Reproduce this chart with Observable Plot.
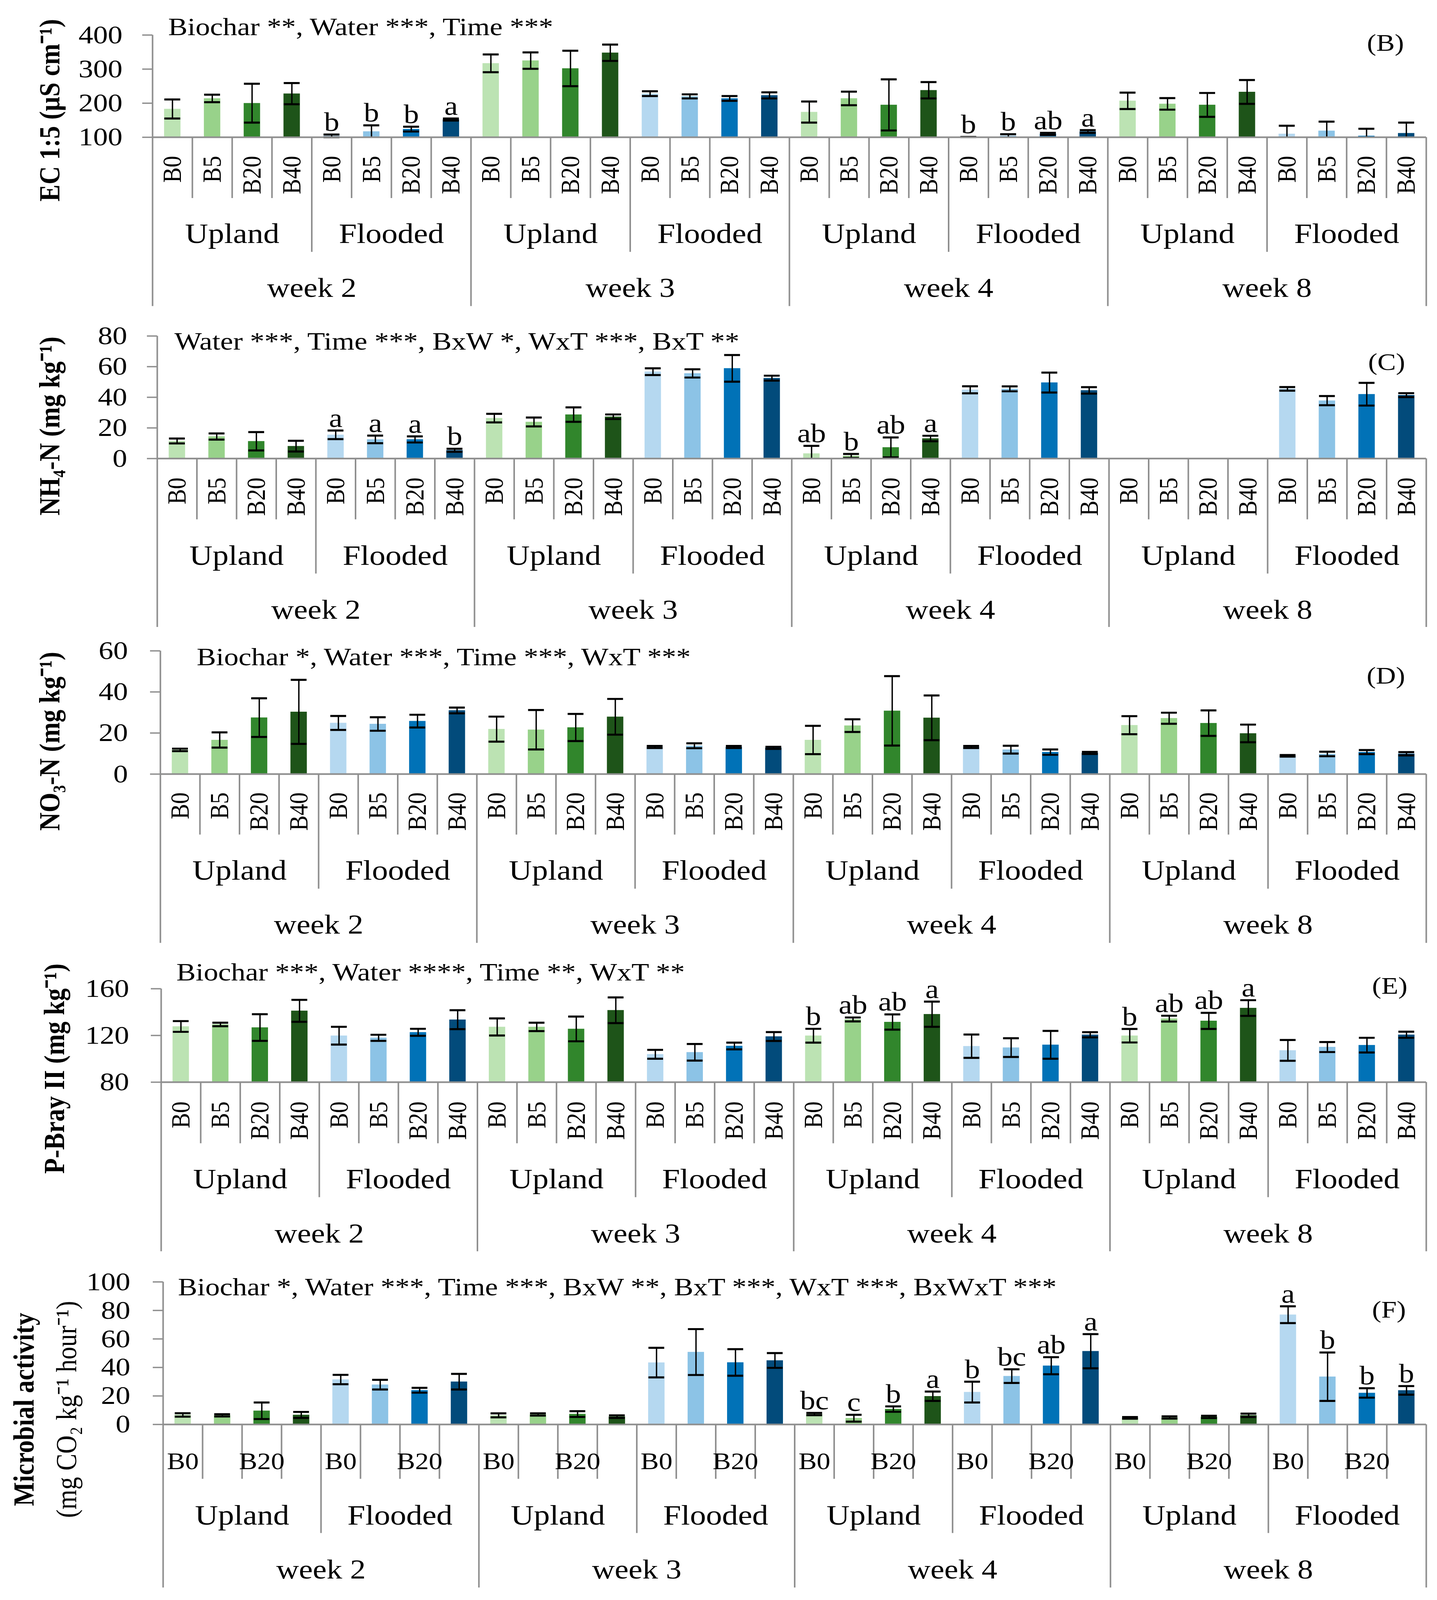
<!DOCTYPE html>
<html>
<head>
<meta charset="utf-8">
<script src="https://cdn.jsdelivr.net/npm/d3@7"></script>
<script src="https://cdn.jsdelivr.net/npm/@observablehq/plot@0.6"></script>
<style>
html, body { margin: 0; padding: 0; background: #fff; overflow: hidden; }
#frame { width: 3678px; height: 4096px; overflow: hidden; }
#chart { width: 3678px; transform-origin: 0 0; }
#chart svg { display: block; }
</style>
</head>
<body>
<div id="frame"><div id="chart"></div></div>
<script>
// ---------- categories ----------
const weeks = ["week 2", "week 3", "week 4", "week 8"];
const waterRegimes = ["Upland", "Flooded"];
const biocharRates = ["B0", "B5", "B20", "B40"];
const barKeys = waterRegimes.flatMap(w => biocharRates.map(r => w + " " + r));
const barColors = ["#bce3b3", "#98d28a", "#31862c", "#1e5419", "#b5d8f0", "#8cc3e6", "#0172b7", "#024b7b"];

// ---------- (B) EC 1:5 ----------
const ecMean = [183, 214, 200, 228, 104, 117, 124, 152, 317, 325, 302, 348, 228, 220, 214, 223,
                174, 214, 195, 238, 100, 104, 110, 117, 207, 198, 195, 233, 110, 119, 104, 112];
const ecErr = [28, 11, 57, 31, 4, 18, 7, 3, 26, 24, 52, 24, 7, 6, 7, 9,
               31, 20, 75, 24, 1, 5, 3, 4, 24, 17, 35, 35, 24, 27, 21, 31];
const ecLetters = ["", "", "", "", "b", "b", "b", "a", "", "", "", "", "", "", "", "",
                   "", "", "", "", "b", "b", "ab", "a", "", "", "", "", "", "", "", ""];
const ecTicks = [100, 200, 300, 400];

// ---------- (C) NH4-N ----------
const nh4Mean = [11.5, 14.4, 11.3, 8.1, 15.5, 12.5, 12.5, 5.4, 26.4, 23.9, 28.7, 27.3, 56.7, 55.6, 58.9, 52.5,
                 3.3, 1.7, 7.3, 13.1, 44.9, 45.5, 49.6, 44.5, null, null, null, null, 45.5, 37.8, 42.0, 41.4];
const nh4Err = [1.6, 2, 6, 3.5, 2.8, 2.5, 2, 1, 2.8, 2.9, 4.7, 1.5, 2.2, 2.7, 8.7, 1.6,
                5, 1.3, 6.5, 1.8, 2.3, 1.6, 6.5, 2.1, null, null, null, null, 1.2, 3, 7.4, 1.3];
const nh4Letters = ["", "", "", "", "a", "a", "a", "b", "", "", "", "", "", "", "", "",
                    "ab", "b", "ab", "a", "", "", "", "", "", "", "", "", "", "", "", ""];
const nh4Ticks = [0, 20, 40, 60, 80];

// ---------- (D) NO3-N ----------
const no3Mean = [11.8, 16.6, 27.5, 30.3, 24.9, 24.4, 25.8, 31.0, 21.9, 21.6, 22.7, 27.9, 13.2, 13.8, 13.2, 12.8,
                 16.6, 23.6, 30.8, 27.4, 13.2, 11.9, 10.7, 10.3, 23.8, 27.2, 24.8, 19.8, 8.9, 9.8, 10.7, 9.9];
const no3Err = [0.6, 3.7, 9.4, 15.6, 3.4, 3.3, 3.1, 1.4, 6.1, 9.6, 6.6, 8.7, 0.5, 1.2, 0.5, 0.5,
                6.9, 3.1, 16.9, 10.9, 0.5, 1.9, 1.3, 0.5, 4.4, 2.7, 6.2, 4.3, 0.4, 1.1, 1.0, 0.8];
const no3Letters = new Array(32).fill("");
const no3Ticks = [0, 20, 40, 60];

// ---------- (E) P-Bray II ----------
const pMean = [127.7, 129.4, 126.8, 141.1, 119.8, 118.0, 122.7, 133.5, 127.3, 127.3, 125.6, 141.6, 103.9, 105.6, 111.0, 119.1,
               119.8, 133.7, 131.5, 138.2, 110.8, 109.6, 112.0, 120.6, 119.8, 134.4, 132.5, 143.5, 107.2, 110.1, 111.7, 120.6];
const pErr = [4.6, 1.5, 11.4, 9.4, 7.6, 2.6, 3.0, 8.1, 7.3, 3.6, 10.6, 11, 3.8, 7.1, 2.9, 3.8,
              5.9, 1.7, 6.5, 10.8, 10, 8, 11.9, 2.2, 5.8, 2.5, 6.9, 6.7, 8.9, 4.3, 6.3, 2.6];
const pLetters = ["", "", "", "", "", "", "", "", "", "", "", "", "", "", "", "",
                  "b", "ab", "ab", "a", "", "", "", "", "b", "ab", "ab", "a", "", "", "", ""];
const pTicks = [80, 120, 160];

// ---------- (F) Microbial activity ----------
const micMean = [6.7, 6.4, 9.6, 6.7, 31.5, 27.9, 24.0, 30.0, 6.4, 7.0, 7.3, 5.5, 43.4, 50.8, 43.5, 44.9,
                 7.3, 4.4, 10.8, 19.8, 22.7, 33.9, 41.2, 51.4, 4.6, 4.9, 5.3, 6.4, 77.0, 33.5, 22.1, 23.9];
const micErr = [1.2, 0.8, 5.8, 2.1, 3.3, 3.4, 1.7, 5.5, 1.4, 0.8, 2, 0.9, 10.4, 16.1, 9.3, 5.2,
                0.8, 2.4, 1.9, 3.3, 7.3, 4.8, 6, 12, 0.6, 0.8, 0.8, 1.2, 5.9, 17, 3.3, 3];
const micLetters = ["", "", "", "", "", "", "", "", "", "", "", "", "", "", "", "",
                    "bc", "c", "b", "a", "b", "bc", "ab", "a", "", "", "", "", "a", "b", "b", "b"];
const micTicks = [0, 20, 40, 60, 80, 100];

// ---------- texts ----------
const panelTags = ["(B)", "(C)", "(D)", "(E)", "(F)"];
const annotations = [
  "Biochar **, Water ***, Time ***",
  "Water ***, Time ***, BxW *, WxT ***, BxT **",
  "Biochar *, Water ***, Time ***, WxT ***",
  "Biochar ***, Water ****, Time **, WxT **",
  "Biochar *, Water ***, Time ***, BxW **, BxT ***, WxT ***, BxWxT ***"
];
const yLabels = [
  ["EC 1:5 (µS cm⁻¹)"],
  ["NH₄-N (mg kg⁻¹)"],
  ["NO₃-N (mg kg⁻¹)"],
  ["P-Bray II (mg kg⁻¹)"],
  ["Microbial activity", "(mg CO₂ kg⁻¹ hour⁻¹)"]
];

// ---------- layout (pixels, designed for a 3678 x 4726 page) ----------
const W = 3678;
const DESIGN_H = 4726;
const GRAY = "#8f8f8f";
const FONT = "'Liberation Serif', 'Times New Roman', serif";
const layouts = [
  {height: 930, mt: 103, mb: 525, ml: 390, tickLen: 180, groupLen: 339, weekLen: 499, labDy: 55, grpDy: 286, wkDy: 446,
   annDx: 40, annDy: 0, tagDx: -57, tagDy: 24, yl: [{dx: -263}], ylDy: 71, tickGap: 77, rotate: true},
  {height: 930, mt: 62, mb: 506, ml: 402, tickLen: 180, groupLen: 340, weekLen: 498, labDy: 56, grpDy: 288, wkDy: 448,
   annDx: 44, annDy: 40, tagDx: -54, tagDy: 77, yl: [{dx: -275}], ylDy: 85, tickGap: 77, rotate: true},
  {height: 930, mt: 62, mb: 504, ml: 410, tickLen: 179, groupLen: 339, weekLen: 499, labDy: 54, grpDy: 286, wkDy: 446,
   annDx: 93, annDy: 42, tagDx: -54, tagDy: 74, yl: [{dx: -283}], ylDy: 85, tickGap: 83, rotate: true},
  {height: 930, mt: 130, mb: 524, ml: 412, tickLen: 181, groupLen: 340, weekLen: 500, labDy: 57, grpDy: 287, wkDy: 448,
   annDx: 39, annDy: -24, tagDx: -48, tagDy: -8, yl: [{dx: -273}], ylDy: 98, tickGap: 82, rotate: true},
  {height: 1006, mt: 66, mb: 519, ml: 417, tickLen: 161, groupLen: 321, weekLen: 482, labDy: 110, grpDy: 270, wkDy: 430,
   annDx: 38, annDy: 39, tagDx: -52, tagDy: 82, yl: [{dx: -356, bold: true}, {dx: -247, bold: false}], ylDy: 166, tickGap: 84, rotate: false}
];
const MR = 28;

const panels = [
  {mean: ecMean, err: ecErr, letters: ecLetters, ticks: ecTicks},
  {mean: nh4Mean, err: nh4Err, letters: nh4Letters, ticks: nh4Ticks},
  {mean: no3Mean, err: no3Err, letters: no3Letters, ticks: no3Ticks},
  {mean: pMean, err: pErr, letters: pLetters, ticks: pTicks},
  {mean: micMean, err: micErr, letters: micLetters, ticks: micTicks}
];

function buildRows(mean, err, letters) {
  const rows = [];
  let i = 0;
  for (const week of weeks) for (const water of waterRegimes) for (let ri = 0; ri < biocharRates.length; ri++) {
    rows.push({i, week, water, rate: biocharRates[ri], ri, key: water + " " + biocharRates[ri],
               v: mean[i], e: err[i], letter: letters[i] || ""});
    i++;
  }
  return rows;
}

function makePanel(p, k) {
  const L = layouts[k];
  const rows = buildRows(p.mean, p.err, p.letters);
  const yDomain = d3.extent(p.ticks);
  const ymin = yDomain[0];
  const frameH = L.height - L.mt - L.mb;
  const frameW = W - L.ml - MR;
  const bandPx = frameW / rows.length;
  const barInset = (bandPx - 42) / 2;
  const present = rows.filter(d => d.v != null);
  const bounds = rows.map(d => ({x: d.i + 0.5, kind: d.ri === 3 ? (d.water === "Flooded" ? "week" : "group") : "bar"}));
  const groupCenters = d3.rollups(rows, v => ({x: d3.mean(v, d => d.i), label: v[0].water}), d => d.week + "|" + d.water).map(d => d[1]);
  const weekCenters = d3.rollups(rows, v => ({x: d3.mean(v, d => d.i), label: v[0].week}), d => d.week).map(d => d[1]);
  const sep = (kind, len) => Plot.ruleX(bounds.filter(b => b.kind === kind), {x: "x", insetTop: frameH, insetBottom: -len, stroke: GRAY, strokeWidth: 4});

  const marks = [
    Plot.rectY(present, {x1: d => d.i - 0.5, x2: d => d.i + 0.5, y1: ymin, y2: "v", fill: "key", insetLeft: barInset, insetRight: barInset}),
    // error bars
    Plot.ruleX(present, {x: "i", y1: d => Math.max(d.v - d.e, ymin), y2: d => d.v + d.e, stroke: "black", strokeWidth: 3.5}),
    Plot.ruleY(present, {y: d => d.v + d.e, x1: d => d.i - 0.2, x2: d => d.i + 0.2, stroke: "black", strokeWidth: 6}),
    Plot.ruleY(present.filter(d => d.v - d.e >= ymin), {y: d => d.v - d.e, x1: d => d.i - 0.2, x2: d => d.i + 0.2, stroke: "black", strokeWidth: 6}),
    // axes and category separators
    Plot.ruleY([ymin], {stroke: GRAY, strokeWidth: 5}),
    Plot.ruleY(p.ticks, {insetLeft: -26, insetRight: frameW, stroke: GRAY, strokeWidth: 4}),
    Plot.ruleX([-0.5], {insetBottom: -L.weekLen, stroke: GRAY, strokeWidth: 4}),
    sep("bar", L.tickLen),
    sep("group", L.groupLen),
    sep("week", L.weekLen),
    Plot.text(p.ticks, {y: d => d, text: d => String(d), frameAnchor: "left", dx: -L.tickGap, textAnchor: "end", lineAnchor: "middle", fontSize: 75}),
    // category labels
    L.rotate
      ? Plot.text(rows, {x: "i", text: "rate", frameAnchor: "bottom", rotate: -90, textAnchor: "end", lineAnchor: "middle", dy: L.labDy, fontSize: 68})
      : Plot.text(rows.filter(d => d.ri % 2 === 0), {x: "i", text: "rate", frameAnchor: "bottom", textAnchor: "middle", lineAnchor: "middle", dy: L.labDy, fontSize: 70}),
    Plot.text(groupCenters, {x: "x", text: "label", frameAnchor: "bottom", dy: L.grpDy, lineAnchor: "middle", fontSize: 82}),
    Plot.text(weekCenters, {x: "x", text: "label", frameAnchor: "bottom", dy: L.wkDy, lineAnchor: "middle", fontSize: 80}),
    // significance letters
    Plot.text(present.filter(d => d.letter), {x: "i", y: d => d.v + d.e, text: "letter", lineAnchor: "bottom", dy: -11, fontSize: 78}),
    // annotation, panel tag and y label
    Plot.text([annotations[k]], {text: d => d, frameAnchor: "top-left", textAnchor: "start", lineAnchor: "bottom", dx: L.annDx, dy: L.annDy, fontSize: 74}),
    Plot.text([panelTags[k]], {text: d => d, frameAnchor: "top-right", textAnchor: "end", lineAnchor: "middle", dx: L.tagDx, dy: L.tagDy, fontSize: 71}),
    ...yLabels[k].map((lab, j) => Plot.text([lab], {text: d => d, frameAnchor: "left", rotate: -90, textAnchor: "middle", lineAnchor: "middle",
      dx: L.yl[j].dx, dy: L.ylDy, fontSize: 75, fontWeight: (L.yl[j].bold === false) ? "normal" : "bold"}))
  ];

  return Plot.plot({
    width: W,
    height: L.height,
    marginTop: L.mt,
    marginBottom: L.mb,
    marginLeft: L.ml,
    marginRight: MR,
    x: {domain: [-0.5, rows.length - 0.5], axis: null},
    y: {domain: yDomain, axis: null},
    color: {domain: barKeys, range: barColors},
    style: {fontFamily: FONT, background: "white", color: "black", overflow: "visible"},
    marks
  });
}

const chart = document.getElementById("chart");
panels.forEach((p, k) => chart.appendChild(makePanel(p, k)));

// The photographed viewport can be shorter than the design height: fit the whole figure vertically.
const viewH = window.innerHeight || DESIGN_H;
const fitH = Math.min(viewH, DESIGN_H);
document.getElementById("frame").style.height = fitH + "px";
chart.style.transform = `scaleY(${fitH / DESIGN_H})`;
</script>
</body>
</html>
